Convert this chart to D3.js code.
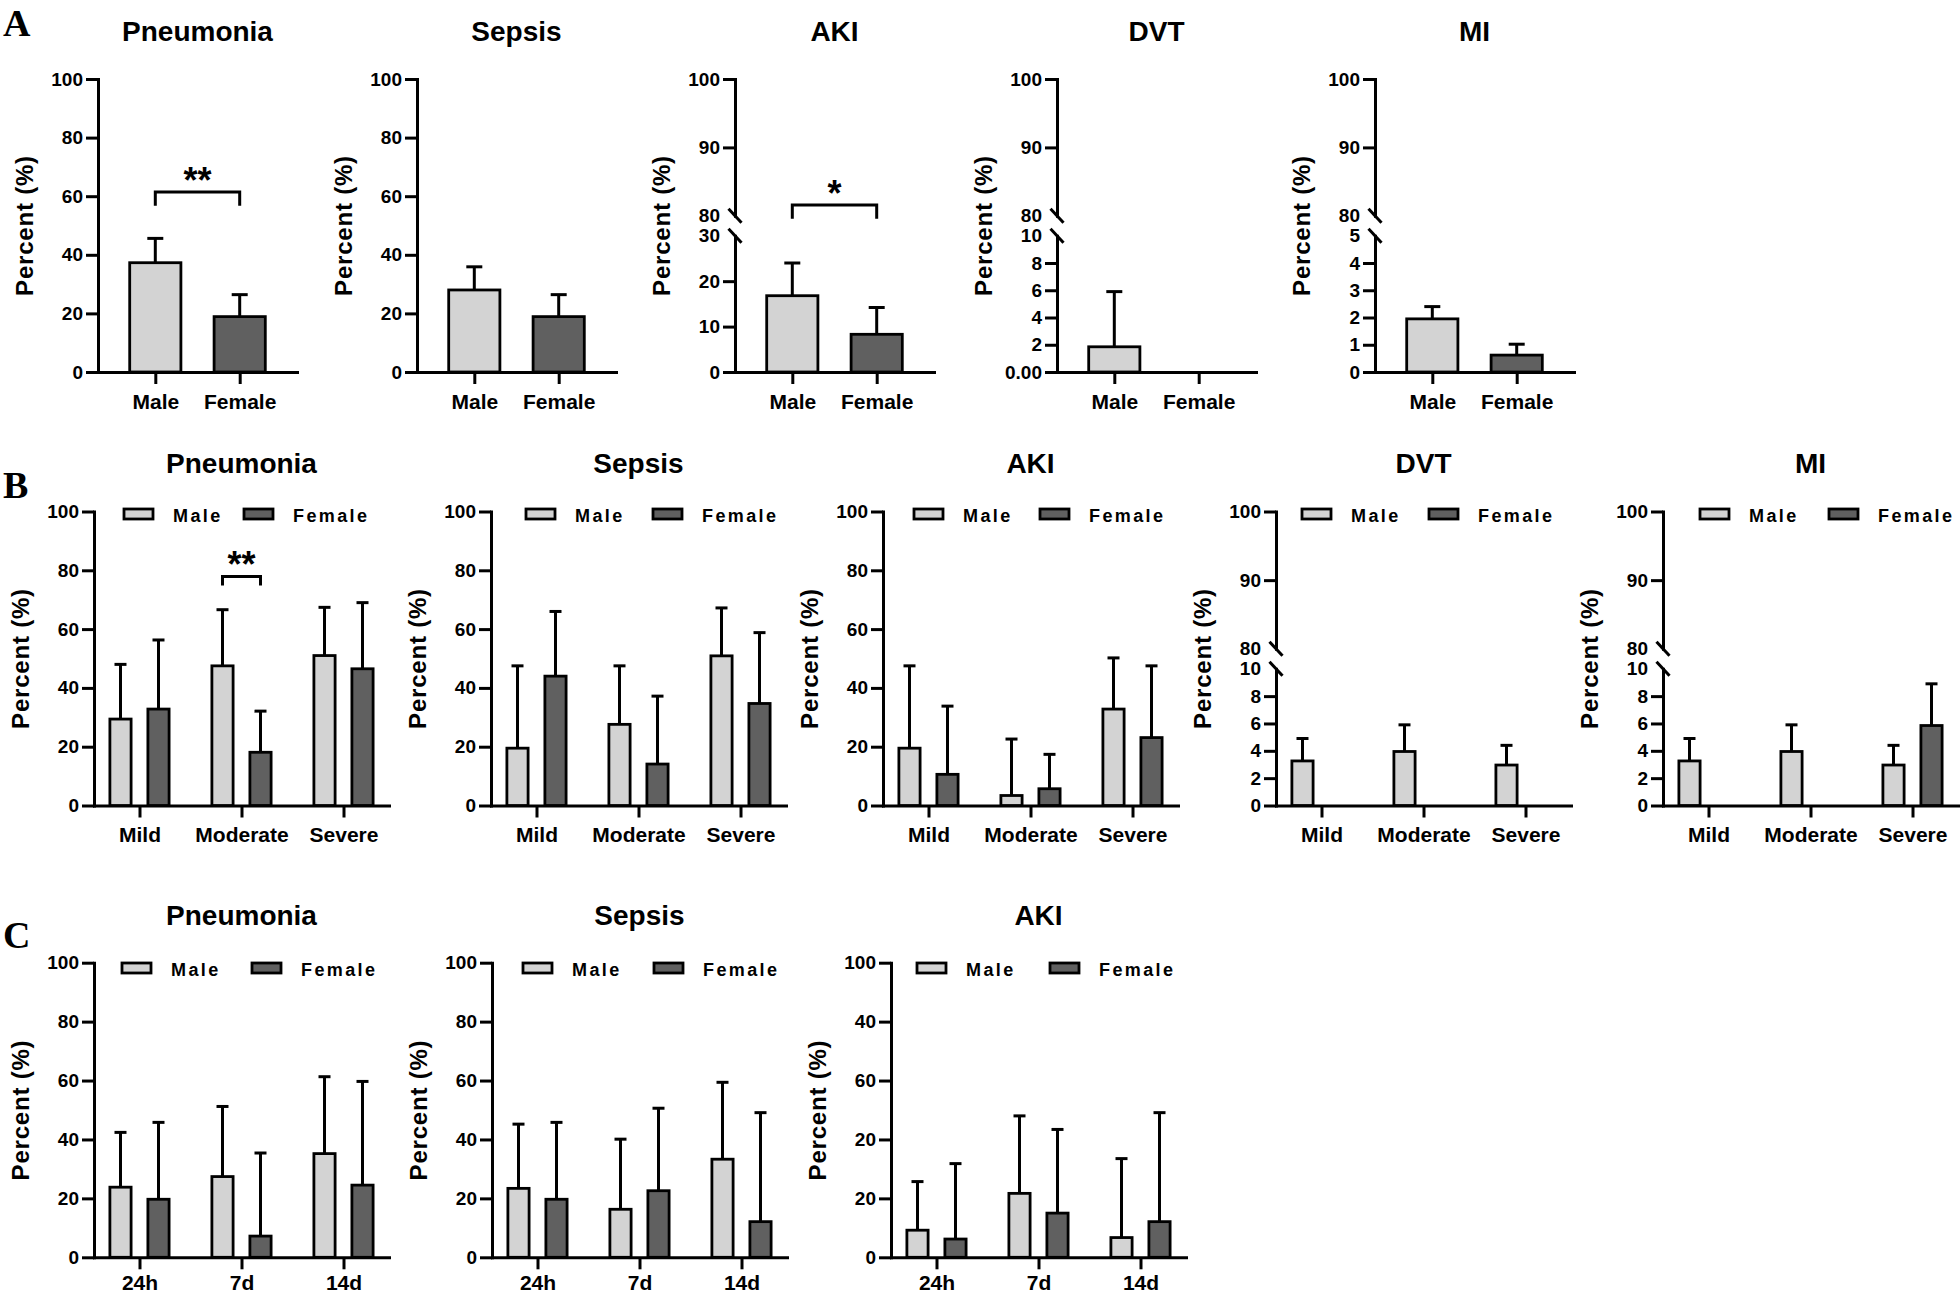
<!DOCTYPE html>
<html>
<head>
<meta charset="utf-8">
<script src="https://cdn.jsdelivr.net/npm/d3@7"></script>
<style>
  body { margin: 0; background: #fff; }
  svg { font-family: 'Liberation Sans', Arial, sans-serif; font-weight: bold; }
</style>
</head>
<body>
<svg id="chart" width="1960" height="1297"></svg>
<script>
// ---- categories ----
const sexes = ['Male', 'Female']
const severity = ['Mild', 'Moderate', 'Severe']
const timepoints = ['24h', '7d', '14d']

// ---- A: overall incidence by sex (mean, top of error bar) ----
const aPneumoniaMean = [37.3, 18.9]
const aPneumoniaErr = [45.6, 26.4]
const aSepsisMean = [28.0, 18.9]
const aSepsisErr = [35.9, 26.4]
const aAkiMean = [16.8, 8.3]
const aAkiErr = [24.0, 14.2]
const aDvtMean = [1.85, 0]
const aDvtErr = [5.9, null]
const aMiMean = [1.95, 0.62]
const aMiErr = [2.4, 1.02]

// ---- B: by severity ----
const bPneumoniaMale = [29.4, 47.5, 51.0]
const bPneumoniaMaleErr = [48.0, 66.6, 67.4]
const bPneumoniaFemale = [32.8, 18.1, 46.5]
const bPneumoniaFemaleErr = [56.3, 32.1, 69.0]
const bSepsisMale = [19.5, 27.6, 50.9]
const bSepsisMaleErr = [47.5, 47.5, 67.2]
const bSepsisFemale = [44.0, 14.1, 34.7]
const bSepsisFemaleErr = [66.0, 37.2, 58.8]
const bAkiMale = [19.5, 3.4, 32.8]
const bAkiMaleErr = [47.5, 22.6, 50.2]
const bAkiFemale = [10.6, 5.7, 23.1]
const bAkiFemaleErr = [33.8, 17.4, 47.5]
const bDvtMale = [3.26, 3.95, 2.96]
const bDvtMaleErr = [4.9, 5.9, 4.4]
const bDvtFemale = [0, 0, 0]
const bDvtFemaleErr = [null, null, null]
const bMiMale = [3.26, 3.95, 2.96]
const bMiMaleErr = [4.9, 5.9, 4.4]
const bMiFemale = [0, 0, 5.85]
const bMiFemaleErr = [null, null, 8.9]

// ---- C: by time point ----
const cPneumoniaMale = [23.8, 27.4, 35.2]
const cPneumoniaMaleErr = [42.4, 51.2, 61.3]
const cPneumoniaFemale = [19.7, 7.2, 24.5]
const cPneumoniaFemaleErr = [45.8, 35.4, 59.7]
const cSepsisMale = [23.4, 16.3, 33.3]
const cSepsisMaleErr = [45.2, 40.1, 59.4]
const cSepsisFemale = [19.7, 22.6, 12.1]
const cSepsisFemaleErr = [45.8, 50.6, 49.1]
const cAkiMale = [9.2, 21.7, 6.7]
const cAkiMaleErr = [25.7, 48.0, 33.5]
const cAkiFemale = [6.2, 15.0, 12.1]
const cAkiFemaleErr = [31.8, 43.4, 49.1]

// ---- tick values / labels ----
const fullTicks = [0, 20, 40, 60, 80, 100]
const upperTicks = [80, 90, 100]
const akiLowTicks = [0, 10, 20, 30]
const dvtLowTicks = [0, 2, 4, 6, 8, 10]
const dvtALowLabels = ['0.00', '2', '4', '6', '8', '10']
const miALowTicks = [0, 1, 2, 3, 4, 5]
const akiCTickLabels = ['0', '20', '20', '60', '40', '100']

// ---- layout ----
const light = '#d3d3d3'
const dark = '#606060'
const fills = [light, dark]
const num = d3.format('~g')
const rows = {
  A: { top: 79, bottom: 372, title: 41, width: 199, pad: 0.679, bw: 54, cap: 16, xpad: 10 },
  B: { top: 511.5, bottom: 805.5, title: 473, width: 295, pad: 0.446, bw: 24, cap: 12, xpad: 10, legend: 509 },
  C: { top: 962.7, bottom: 1257.3, title: 925, width: 295, pad: 0.446, bw: 24, cap: 12, xpad: 6, legend: 963 }
}

const panels = [
  { row: 'A', x: 98, title: 'Pneumonia', cats: sexes, mean: [aPneumoniaMean], err: [aPneumoniaErr],
    sig: { a: 'Male', b: 'Female', y: 61.4, leg: 56.7, text: '**' } },
  { row: 'A', x: 417, title: 'Sepsis', cats: sexes, mean: [aSepsisMean], err: [aSepsisErr] },
  { row: 'A', x: 735, title: 'AKI', cats: sexes, mean: [aAkiMean], err: [aAkiErr],
    brk: { low: 30, ticks: akiLowTicks }, sig: { a: 'Male', b: 'Female', y: 81.6, leg: 72.5, text: '*' } },
  { row: 'A', x: 1057, title: 'DVT', cats: sexes, mean: [aDvtMean], err: [aDvtErr],
    brk: { low: 10, ticks: dvtLowTicks, labels: dvtALowLabels } },
  { row: 'A', x: 1375, title: 'MI', cats: sexes, mean: [aMiMean], err: [aMiErr],
    brk: { low: 5, ticks: miALowTicks } },

  { row: 'B', x: 94, title: 'Pneumonia', cats: severity, legend: [30, 150],
    mean: [bPneumoniaMale, bPneumoniaFemale], err: [bPneumoniaMaleErr, bPneumoniaFemaleErr],
    sig: { cat: 'Moderate', y: 77.9, leg: 74.8, text: '**' } },
  { row: 'B', x: 491, title: 'Sepsis', cats: severity, legend: [35, 162],
    mean: [bSepsisMale, bSepsisFemale], err: [bSepsisMaleErr, bSepsisFemaleErr] },
  { row: 'B', x: 883, title: 'AKI', cats: severity, legend: [31, 157],
    mean: [bAkiMale, bAkiFemale], err: [bAkiMaleErr, bAkiFemaleErr] },
  { row: 'B', x: 1276, title: 'DVT', cats: severity, legend: [26, 153],
    mean: [bDvtMale, bDvtFemale], err: [bDvtMaleErr, bDvtFemaleErr], brk: { low: 10, ticks: dvtLowTicks } },
  { row: 'B', x: 1663, title: 'MI', cats: severity, legend: [37, 166],
    mean: [bMiMale, bMiFemale], err: [bMiMaleErr, bMiFemaleErr], brk: { low: 10, ticks: dvtLowTicks } },

  { row: 'C', x: 94, title: 'Pneumonia', cats: timepoints, legend: [28, 158],
    mean: [cPneumoniaMale, cPneumoniaFemale], err: [cPneumoniaMaleErr, cPneumoniaFemaleErr] },
  { row: 'C', x: 492, title: 'Sepsis', cats: timepoints, legend: [31, 162],
    mean: [cSepsisMale, cSepsisFemale], err: [cSepsisMaleErr, cSepsisFemaleErr] },
  { row: 'C', x: 891, title: 'AKI', cats: timepoints, legend: [26, 159], tickLabels: akiCTickLabels,
    mean: [cAkiMale, cAkiFemale], err: [cAkiMaleErr, cAkiFemaleErr] }
]

const svg = d3.select('#chart')
svg.append('rect').attr('width', 1960).attr('height', 1297).attr('fill', '#fff')

function styleAxis (sel, fs) {
  sel.attr('font-family', null).attr('font-size', null)
  sel.selectAll('path, line').attr('stroke', '#000').attr('stroke-width', 3)
  sel.select('.domain').attr('stroke-linecap', 'square')
  sel.selectAll('text').attr('fill', '#000').attr('font-size', fs).attr('font-weight', 'bold')
}

function drawPanel (p) {
  const r = rows[p.row]
  const ax = p.x
  const g = svg.append('g')
  const h = r.bottom - r.top

  // y scale, polylinear when the axis is broken
  let y
  let lowTopY, y80
  if (p.brk) {
    lowTopY = r.bottom - 0.465 * h
    y80 = lowTopY - 0.068 * h
    y = d3.scaleLinear().domain([0, p.brk.low, 80, 100]).range([r.bottom, lowTopY, y80, r.top])
  } else {
    y = d3.scaleLinear().domain([0, 100]).range([r.bottom, r.top])
  }

  const x = d3.scalePoint().domain(p.cats).range([ax, ax + r.width]).padding(r.pad)
  const inner = d3.scalePoint().domain(sexes).range([-19, 19])

  // y axis
  if (p.brk) {
    const yLow = d3.scaleLinear().domain([0, p.brk.low]).range([r.bottom, lowTopY])
    const yHigh = d3.scaleLinear().domain([80, 100]).range([y80, r.top])
    const lowAxis = d3.axisLeft(yLow).tickValues(p.brk.ticks).tickSize(12).tickSizeOuter(0).tickPadding(3)
      .tickFormat(p.brk.labels ? (d, i) => p.brk.labels[i] : num)
    const gl = g.append('g').attr('transform', `translate(${ax},0)`).call(lowAxis).call(styleAxis, 19)
    gl.selectAll('.tick').filter(d => d === p.brk.low).select('line').remove()
    const gh = g.append('g').attr('transform', `translate(${ax},0)`)
      .call(d3.axisLeft(yHigh).tickValues(upperTicks).tickFormat(num).tickSize(12).tickSizeOuter(0).tickPadding(3))
      .call(styleAxis, 19)
    gh.selectAll('.tick').filter(d => d === 80).select('line').remove()
    // break marks
    g.selectAll('line.brk').data([lowTopY, y80]).enter().append('line')
      .attr('class', 'brk')
      .attr('x1', ax - 6.5).attr('x2', ax + 6.5)
      .attr('y1', d => d - 7).attr('y2', d => d + 7)
      .attr('stroke', '#000').attr('stroke-width', 3)
  } else {
    const yAxis = d3.axisLeft(y).tickValues(fullTicks).tickSize(12).tickSizeOuter(0).tickPadding(3)
      .tickFormat(p.tickLabels ? (d, i) => p.tickLabels[i] : num)
    g.append('g').attr('transform', `translate(${ax},0)`).call(yAxis).call(styleAxis, 19)
  }

  // x axis
  g.append('g').attr('transform', `translate(0,${r.bottom})`)
    .call(d3.axisBottom(x).tickSize(12).tickSizeOuter(0).tickPadding(r.xpad))
    .call(styleAxis, 21)

  // bar records
  let bars = []
  if (p.row === 'A') {
    bars = p.cats.map((c, i) => ({ cx: x(c), fill: fills[i], mean: p.mean[0][i], err: p.err[0][i] }))
  } else {
    p.cats.forEach((c, ci) => {
      sexes.forEach((s, si) => {
        bars.push({ cx: x(c) + inner(s), fill: fills[si], mean: p.mean[si][ci], err: p.err[si][ci] })
      })
    })
  }

  // error bars (upper only)
  const eb = bars.filter(d => d.err != null)
  g.selectAll('line.err').data(eb).enter().append('line')
    .attr('class', 'err')
    .attr('x1', d => d.cx).attr('x2', d => d.cx)
    .attr('y1', d => y(d.mean)).attr('y2', d => y(d.err))
    .attr('stroke', '#000').attr('stroke-width', 3)
  g.selectAll('line.cap').data(eb).enter().append('line')
    .attr('class', 'cap')
    .attr('x1', d => d.cx - r.cap / 2).attr('x2', d => d.cx + r.cap / 2)
    .attr('y1', d => y(d.err)).attr('y2', d => y(d.err))
    .attr('stroke', '#000').attr('stroke-width', 3)

  // bars
  const sw = 2.8
  g.selectAll('rect.bar').data(bars.filter(d => d.mean > 0)).enter().append('rect')
    .attr('class', 'bar')
    .attr('x', d => d.cx - (r.bw - sw) / 2)
    .attr('width', r.bw - sw)
    .attr('y', d => y(d.mean))
    .attr('height', d => y(0) - y(d.mean))
    .attr('fill', d => d.fill)
    .attr('stroke', '#000').attr('stroke-width', sw)

  // significance bracket
  if (p.sig) {
    let xa, xb
    if (p.sig.cat) {
      xa = x(p.sig.cat) + inner('Male')
      xb = x(p.sig.cat) + inner('Female')
    } else {
      xa = x(p.sig.a)
      xb = x(p.sig.b)
    }
    const yb = y(p.sig.y)
    const yl = y(p.sig.leg)
    g.append('path')
      .attr('d', `M${xa},${yl}V${yb}H${xb}V${yl}`)
      .attr('fill', 'none').attr('stroke', '#000').attr('stroke-width', 3)
    g.append('text')
      .attr('x', (xa + xb) / 2).attr('y', yb + 1)
      .attr('text-anchor', 'middle')
      .attr('font-size', 36)
      .text(p.sig.text)
  }

  // legend
  if (p.legend) {
    sexes.forEach((s, i) => {
      const lx = ax + p.legend[i]
      g.append('rect')
        .attr('x', lx).attr('y', r.legend)
        .attr('width', 29).attr('height', 10)
        .attr('fill', fills[i]).attr('stroke', '#000').attr('stroke-width', 2.8)
      g.append('text')
        .attr('x', lx + 49).attr('y', r.legend + 12.5)
        .attr('font-size', 18).attr('letter-spacing', 2.4)
        .text(s)
    })
  }

  // title
  g.append('text')
    .attr('x', ax + r.width / 2).attr('y', r.title)
    .attr('text-anchor', 'middle')
    .attr('font-size', 28)
    .text(p.title)

  // y label
  g.append('text')
    .attr('transform', `translate(${ax - 65},${(r.top + r.bottom) / 2}) rotate(-90)`)
    .attr('text-anchor', 'middle')
    .attr('font-size', 24).attr('letter-spacing', 0.8)
    .text('Percent (%)')
}

panels.forEach(drawPanel)

// panel letters
const letters = [['A', 36], ['B', 498], ['C', 948]]
svg.selectAll('text.letter').data(letters).enter().append('text')
  .attr('class', 'letter')
  .attr('x', 3).attr('y', d => d[1])
  .attr('font-family', "'Liberation Serif', 'Times New Roman', serif")
  .attr('font-size', 38)
  .text(d => d[0])
</script>
</body>
</html>
